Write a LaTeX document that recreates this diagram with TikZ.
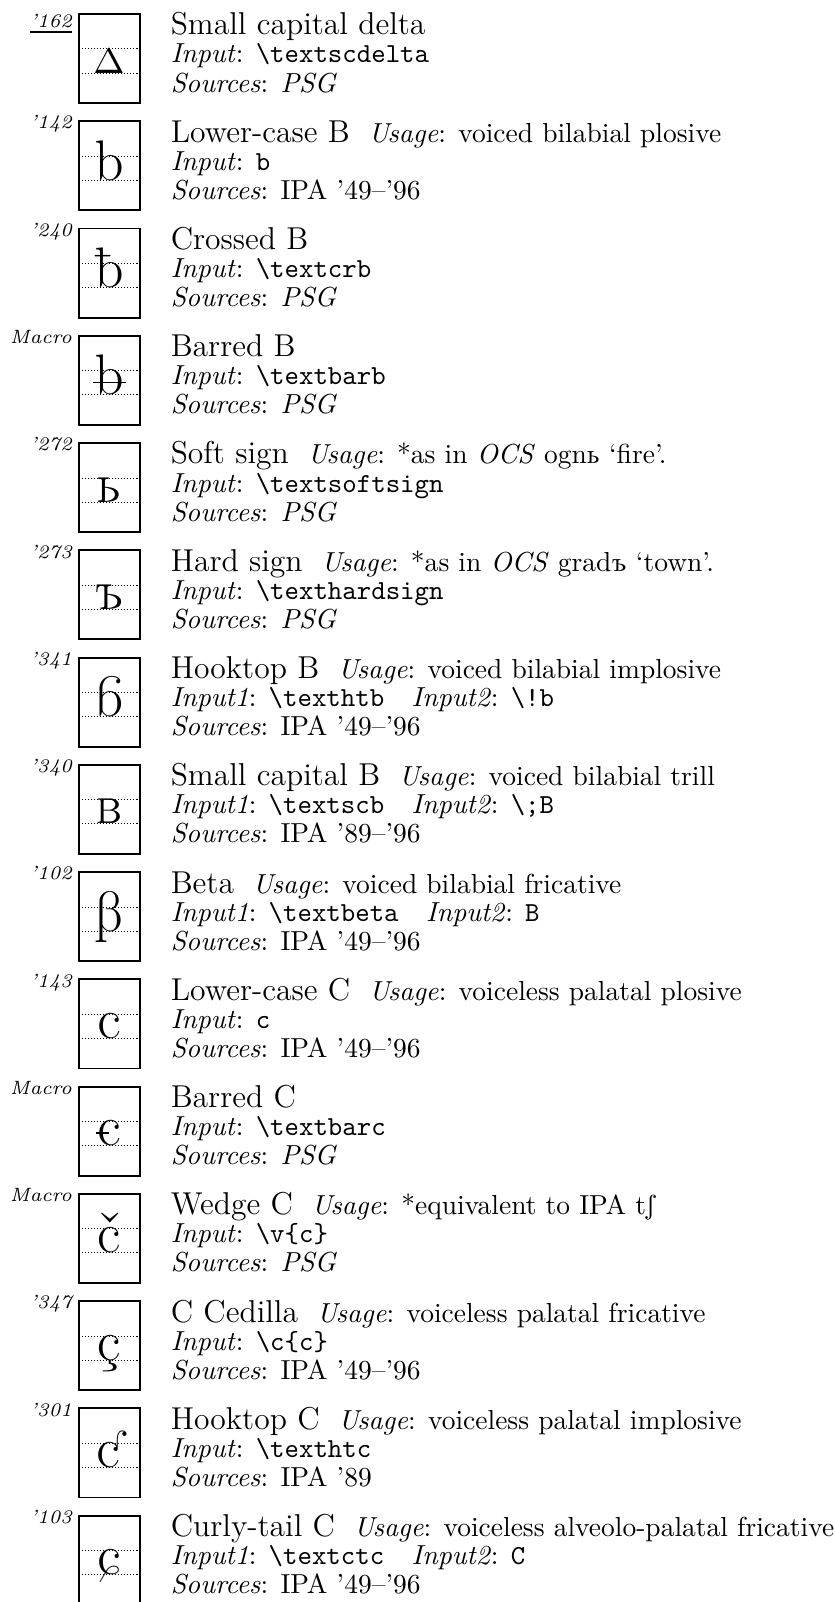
\documentclass[tikz,border=0pt]{standalone}
\usepackage[safe]{tipa}
\usepackage{tipx}

\newcommand{\cmdname}[1]{\texttt{\textbackslash #1}}
\newcommand{\usage}[1]{\hspace{6.8pt}{\normalsize\textit{Usage}: #1}}
\newcommand{\symrow}[6]{%
	\pgfmathsetmacro{\rowtop}{-5.1-39.0*#1}
	\node[glyphbox] (box#1) at (28.7,\rowtop) {};
	\draw[guide] ([yshift=-12.7pt]box#1.north west) -- ([yshift=-12.7pt]box#1.north east);
	\draw[guide] ([yshift=-21.45pt]box#1.north west) -- ([yshift=-21.45pt]box#1.north east);
	\node[glyphmark] (glyph#1) at ([yshift=-21.45pt]box#1.north) {#3};
	\node[codelabel] (code#1) at ([xshift=-2.5pt,yshift=-2.8pt]box#1.north west) {#2};
	\node[nameline] (name#1) at (62.1,\rowtop-7.6) {#4};
	\node[infoline] (input#1) at (62.1,\rowtop-17.8) {#5};
	\node[infoline] (src#1) at (62.1,\rowtop-28.4) {\textit{Sources}: #6};
}

\begin{document}
\begin{tikzpicture}[x=1pt, y=1pt]
				\tikzstyle{every node}=[inner sep=0pt, outer sep=0pt]
				\tikzstyle{glyphbox}=[draw, line width=0.7pt, anchor=north west, minimum width=22.2pt, minimum height=32.4pt]
				\tikzstyle{guide}=[line width=0.35pt, dash pattern=on 0.4pt off 0.7pt]
				\tikzstyle{glyphmark}=[anchor=base, font=\huge]
				\tikzstyle{codelabel}=[anchor=base east, font=\scriptsize\itshape]
				\tikzstyle{nameline}=[anchor=base west, font=\fontsize{11.5pt}{13pt}\selectfont]
				\tikzstyle{infoline}=[anchor=base west]
				\path[use as bounding box, fill=white] (0,0) rectangle (303.3,-582.5);

				\symrow{0}{\raisebox{-2.2pt}{\underline{’162}}}{\textscdelta}{Small capital delta}{\textit{Input}: \cmdname{textscdelta}}{\textit{PSG}}
				\symrow{1}{’142}{\textipa{b}}{Lower-case B\usage{voiced bilabial plosive}}{\textit{Input}: \texttt{b}}{IPA ’49–’96}
				\symrow{2}{’240}{\textcrb}{Crossed B}{\textit{Input}: \cmdname{textcrb}}{\textit{PSG}}
				\symrow{3}{Macro}{\textbarb}{Barred B}{\textit{Input}: \cmdname{textbarb}}{\textit{PSG}}
				\symrow{4}{’272}{\textsoftsign}{Soft sign\usage{*as in \textit{OCS} ogn\textsoftsign{} ‘fire’.}}{\textit{Input}: \cmdname{textsoftsign}}{\textit{PSG}}
				\symrow{5}{’273}{\texthardsign}{Hard sign\usage{*as in \textit{OCS} grad\texthardsign{} ‘town’.}}{\textit{Input}: \cmdname{texthardsign}}{\textit{PSG}}
				\symrow{6}{’341}{\texthtb}{Hooktop B\usage{voiced bilabial implosive}}{\textit{Input1}: \cmdname{texthtb}\quad\textit{Input2}: \cmdname{!b}}{IPA ’49–’96}
				\symrow{7}{’340}{\textscb}{Small capital B\usage{voiced bilabial trill}}{\textit{Input1}: \cmdname{textscb}\quad\textit{Input2}: \cmdname{;B}}{IPA ’89–’96}
				\symrow{8}{’102}{\textbeta}{Beta\usage{voiced bilabial fricative}}{\textit{Input1}: \cmdname{textbeta}\quad\textit{Input2}: \texttt{B}}{IPA ’49–’96}
				\symrow{9}{’143}{\textipa{c}}{Lower-case C\usage{voiceless palatal plosive}}{\textit{Input}: \texttt{c}}{IPA ’49–’96}
				\symrow{10}{Macro}{\textbarc}{Barred C}{\textit{Input}: \cmdname{textbarc}}{\textit{PSG}}
				\symrow{11}{Macro}{\v{c}}{Wedge C\usage{*equivalent to IPA t\textesh}}{\textit{Input}: \cmdname{v\{c\}}}{\textit{PSG}}
				\symrow{12}{’347}{\c{c}}{C Cedilla\usage{voiceless palatal fricative}}{\textit{Input}: \cmdname{c\{c\}}}{IPA ’49–’96}
				\symrow{13}{’301}{\texthtc}{Hooktop C\usage{voiceless palatal implosive}}{\textit{Input}: \cmdname{texthtc}}{IPA ’89}
				\symrow{14}{’103}{\textctc}{Curly-tail C\usage{voiceless alveolo-palatal fricative}}{\textit{Input1}: \cmdname{textctc}\quad\textit{Input2}: \texttt{C}}{IPA ’49–’96}
			\end{tikzpicture}
\end{document}
